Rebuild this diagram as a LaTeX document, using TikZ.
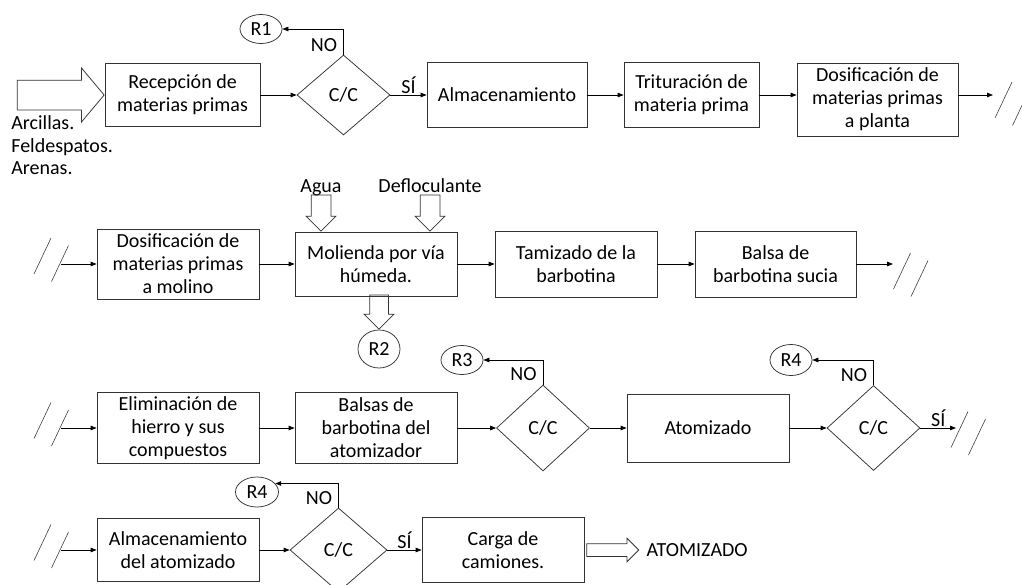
\documentclass[tikz,border=0pt]{standalone}
\usepackage{fontspec}
\setmainfont{Carlito}
\usetikzlibrary{shapes.geometric, shapes.arrows, arrows.meta}

% marca de corte entre filas
\newcommand{\corte}[1]{\draw[corte, shift={#1}] (8.5,-18) -- (-8.5,18) (26,-10.5) -- (9,25.5);}

\begin{document}
\begin{tikzpicture}[x=1pt, y=-1pt, >={Triangle[length=6pt, width=4.5pt]}, line width=0.75pt,
    font=\fontsize{20}{23}\selectfont,
    proceso/.style={draw=black!80, rectangle, align=center, inner sep=2pt},
    decision/.style={draw=black!80, diamond, inner sep=0pt},
    residuo/.style={draw=black!80, ellipse, inner sep=0pt, minimum width=42, minimum height=29},
    flecha/.style={draw=black!80, single arrow, inner xsep=0pt, single arrow head extend=5pt},
    etiqueta/.style={inner sep=1pt},
    corte/.style={black!75, line width=0.6pt}]
    \useasboundingbox (0,0) rectangle (1022,584);
    \clip (0,0) rectangle (1022,584);

    % Fila 1: recepcion
    \node[proceso, minimum width=155, minimum height=63] (recep) at (182.5,95) {Recepción de\\materias primas};
    \node[flecha, inner ysep=14.5pt, single arrow head extend=12pt, single arrow tip angle=100, minimum height=87, anchor=tip] (entrada) at (recep.west) {};
    \node[etiqueta, anchor=west, align=left, font=\fontsize{20}{22.5}\selectfont] (materias) at (10,145.5) {Arcillas.\\Feldespatos.\\Arenas.};
    \node[decision, minimum width=93, minimum height=80] (cc1) at (343.5,95) {C/C};
    \node[residuo] (r1) at (261,29) {R1};
    \node[proceso, minimum width=160, minimum height=65] (almac) at (507,95) {Almacenamiento};
    \node[proceso, minimum width=135, minimum height=65] (trit) at (691.5,95) {Trituración de\\materia prima};
    \node[proceso, minimum width=161, minimum height=73] (dosif1) at (877.5,99.5) {Dosificación de\\materias primas\\a planta};
    \coordinate (sal1) at (993,95);

    \draw[->] (recep) -- (cc1);
    \draw[->] (cc1.north) |- node[etiqueta, left=5pt, pos=0.19] {NO} (r1);
    \draw[->] (cc1) -- node[etiqueta, above] {SÍ} (almac);
    \draw[->] (almac) -- (trit);
    \draw[->] (trit) -- (trit -| dosif1.west);
    \draw[->] (dosif1.east |- sal1) -- (sal1);
    \corte{(1003.5,100)}

    % Fila 2: molienda
    \node[proceso, minimum width=162, minimum height=70] (dosif2) at (178,264) {Dosificación de\\materias primas\\a molino};
    \node[proceso, minimum width=162, minimum height=64] (moli) at (376,264) {Molienda por vía\\húmeda.};
    \node[proceso, minimum width=162, minimum height=66] (tamiz) at (576,264) {Tamizado de la\\barbotina};
    \node[proceso, minimum width=161, minimum height=66] (balsa1) at (775.5,264) {Balsa de\\barbotina sucia};
    \node[etiqueta, anchor=base] (agua) at (321,192) {Agua};
    \node[etiqueta, anchor=base] (deflo) at (430,192) {Defloculante};
    \node[flecha, inner ysep=9.5pt, rotate=-90, minimum height=36, anchor=tip] (fagua) at (agua |- moli.north) {};
    \node[flecha, inner ysep=9.5pt, rotate=-90, minimum height=36, anchor=tip] (fdeflo) at (deflo |- moli.north) {};
    \node[residuo, minimum height=38] (r2) at (379,349) {R2};
    \node[flecha, inner ysep=9pt, single arrow head extend=5.5pt, rotate=-90, minimum height=34, anchor=tip] (fr2) at (r2.north) {};
    \coordinate (ent2) at (61,264);
    \coordinate (sal2) at (893,264);

    \corte{(42.5,256)}
    \draw[->] (ent2) -- (dosif2);
    \draw[->] (dosif2) -- (moli);
    \draw[->] (moli) -- (tamiz);
    \draw[->] (tamiz) -- (balsa1);
    \draw[->] (balsa1) -- (sal2);
    \corte{(902,271)}

    % Fila 3: atomizado
    \node[proceso, minimum width=162, minimum height=71] (elim) at (178,428) {Eliminación de\\hierro y sus\\compuestos};
    \node[proceso, minimum width=162, minimum height=71] (balsa2) at (376,428) {Balsas de\\barbotina del\\atomizador};
    \node[decision, minimum width=93, minimum height=86] (cc2) at (543,428) {C/C};
    \node[residuo] (r3) at (462,360) {R3};
    \node[proceso, minimum width=162, minimum height=68] (atom) at (708,428) {Atomizado};
    \node[decision, minimum width=93, minimum height=85] (cc3) at (873.5,428) {C/C};
    \node[residuo, minimum height=31] (r4a) at (791,360) {R4};
    \coordinate (ent3) at (61,428);
    \coordinate (sal3) at (956,428);

    \corte{(42.5,420.5)}
    \draw[->] (ent3) -- (elim);
    \draw[->] (elim) -- (balsa2);
    \draw[->] (balsa2) -- (cc2);
    \draw[->] (cc2.north) |- node[etiqueta, left=5pt, pos=0.21] {NO} (r3);
    \draw[->] (cc2) -- (atom);
    \draw[->] (atom) -- (cc3);
    \draw[->] (cc3.north) |- node[etiqueta, left=5pt, pos=0.2] {NO} (r4a);
    \draw[->] (cc3) -- node[etiqueta, above] {SÍ} (sal3);
    \corte{(959.5,429.5)}

    % Fila 4: expedicion
    \node[proceso, minimum width=162, minimum height=63] (almat) at (178,550) {Almacenamiento\\del atomizado};
    \node[decision, minimum width=97, minimum height=84] (cc4) at (338.5,550) {C/C};
    \node[residuo, minimum width=43, minimum height=30] (r4b) at (257,492) {R4};
    \node[proceso, minimum width=162, minimum height=65] (carga) at (503,550) {Carga de\\camiones.};
    \node[flecha, inner ysep=6pt, single arrow head extend=5.5pt, minimum height=52, anchor=tail] (fsal) at ([xshift=2]carga.east) {};
    \node[etiqueta, anchor=west] (producto) at ([xshift=6]fsal.tip) {ATOMIZADO};
    \coordinate (ent4) at (61,550);

    \corte{(42.5,542.5)}
    \draw[->] (ent4) -- (almat);
    \draw[->] (almat) -- (cc4);
    \draw[->] (cc4.north) |- node[etiqueta, left=5pt, pos=0.19] {NO} (r4b.25);
    \draw[->] (cc4) -- node[etiqueta, above] {SÍ} (carga);
\end{tikzpicture}
\end{document}
